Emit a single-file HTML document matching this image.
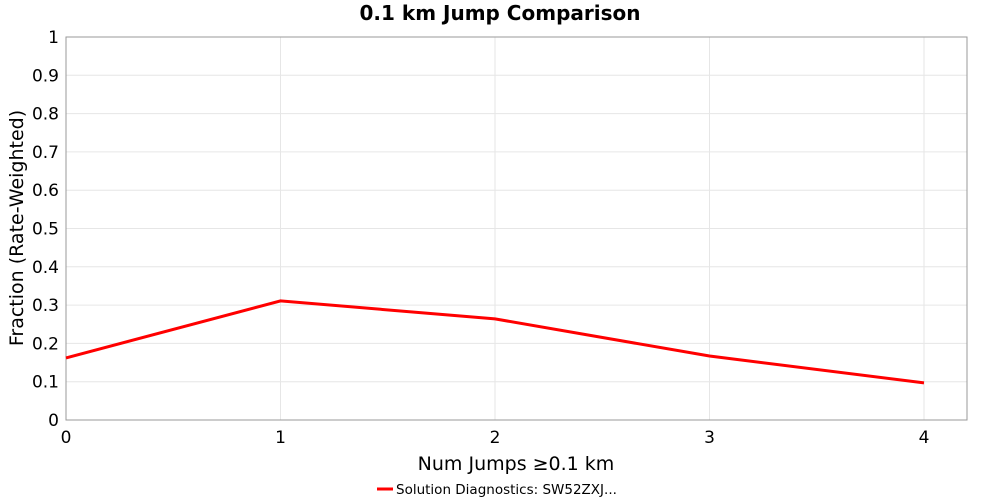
<!DOCTYPE html>
<html><head><meta charset="utf-8"><style>
body{margin:0;background:#fff;font-family:"DejaVu Sans","Liberation Sans",sans-serif;}
svg{display:block}
</style></head><body>
<svg id="chart" width="1000" height="500">
<text x="500" y="20" text-anchor="middle" font-size="20" font-weight="bold">0.1 km Jump Comparison</text>
<g id="grid"></g>
<rect x="66" y="37" width="901" height="383" fill="none" stroke="#999"/>
<g id="yticks"></g><g id="xticks"></g>
<path id="series" fill="none" stroke="#ff0000" stroke-width="3"/>
<text x="23" y="228" transform="rotate(-90 23 228)" text-anchor="middle" font-size="19">Fraction (Rate-Weighted)</text>
<text x="516" y="470" text-anchor="middle" font-size="19">Num Jumps ≥0.1 km</text>
<g>
<line x1="377" y1="489" x2="393" y2="489" stroke="#ff0000" stroke-width="3"/>
<text x="396" y="494" font-size="13.5">Solution Diagnostics: SW52ZXJ...</text>
</g>
</svg>
<script>
const xValues=[0,1,2,3,4];
const yValues=[0.162,0.311,0.264,0.167,0.097];
const yTicks=[0,0.1,0.2,0.3,0.4,0.5,0.6,0.7,0.8,0.9,1];
const yTickLabels=["0","0.1","0.2","0.3","0.4","0.5","0.6","0.7","0.8","0.9","1"];
const xTicks=[0,1,2,3,4];
const NS="http://www.w3.org/2000/svg";
const X=v=>66+v*214.5, Y=v=>420-v*383;
function mk(t,a){const e=document.createElementNS(NS,t);for(const k in a)e.setAttribute(k,a[k]);return e;}
const grid=document.getElementById('grid'),yt=document.getElementById('yticks'),xt=document.getElementById('xticks');
yTicks.forEach((v,i)=>{
 const l=mk('line',{x1:66,x2:967,y1:Y(v),y2:Y(v),stroke:'#e6e6e6'});
 
 
 grid.appendChild(l);
 const t=mk('text',{x:59,y:Y(v)+6,'text-anchor':'end','font-size':'17'});
 
 
 t.textContent=yTickLabels[i];yt.appendChild(t);
});
xTicks.forEach(v=>{
 const l=mk('line',{x1:X(v),x2:X(v),y1:37,y2:420,stroke:'#e6e6e6'});
 
 
 grid.appendChild(l);
 const t=mk('text',{x:X(v),y:443,'text-anchor':'middle','font-size':'17'});
 
 
 t.textContent=String(v);xt.appendChild(t);
});
document.getElementById('series').setAttribute('d',xValues.map((x,i)=>(i?'L':'M')+X(x)+' '+Y(yValues[i])).join(' '));
</script>
</body></html>
